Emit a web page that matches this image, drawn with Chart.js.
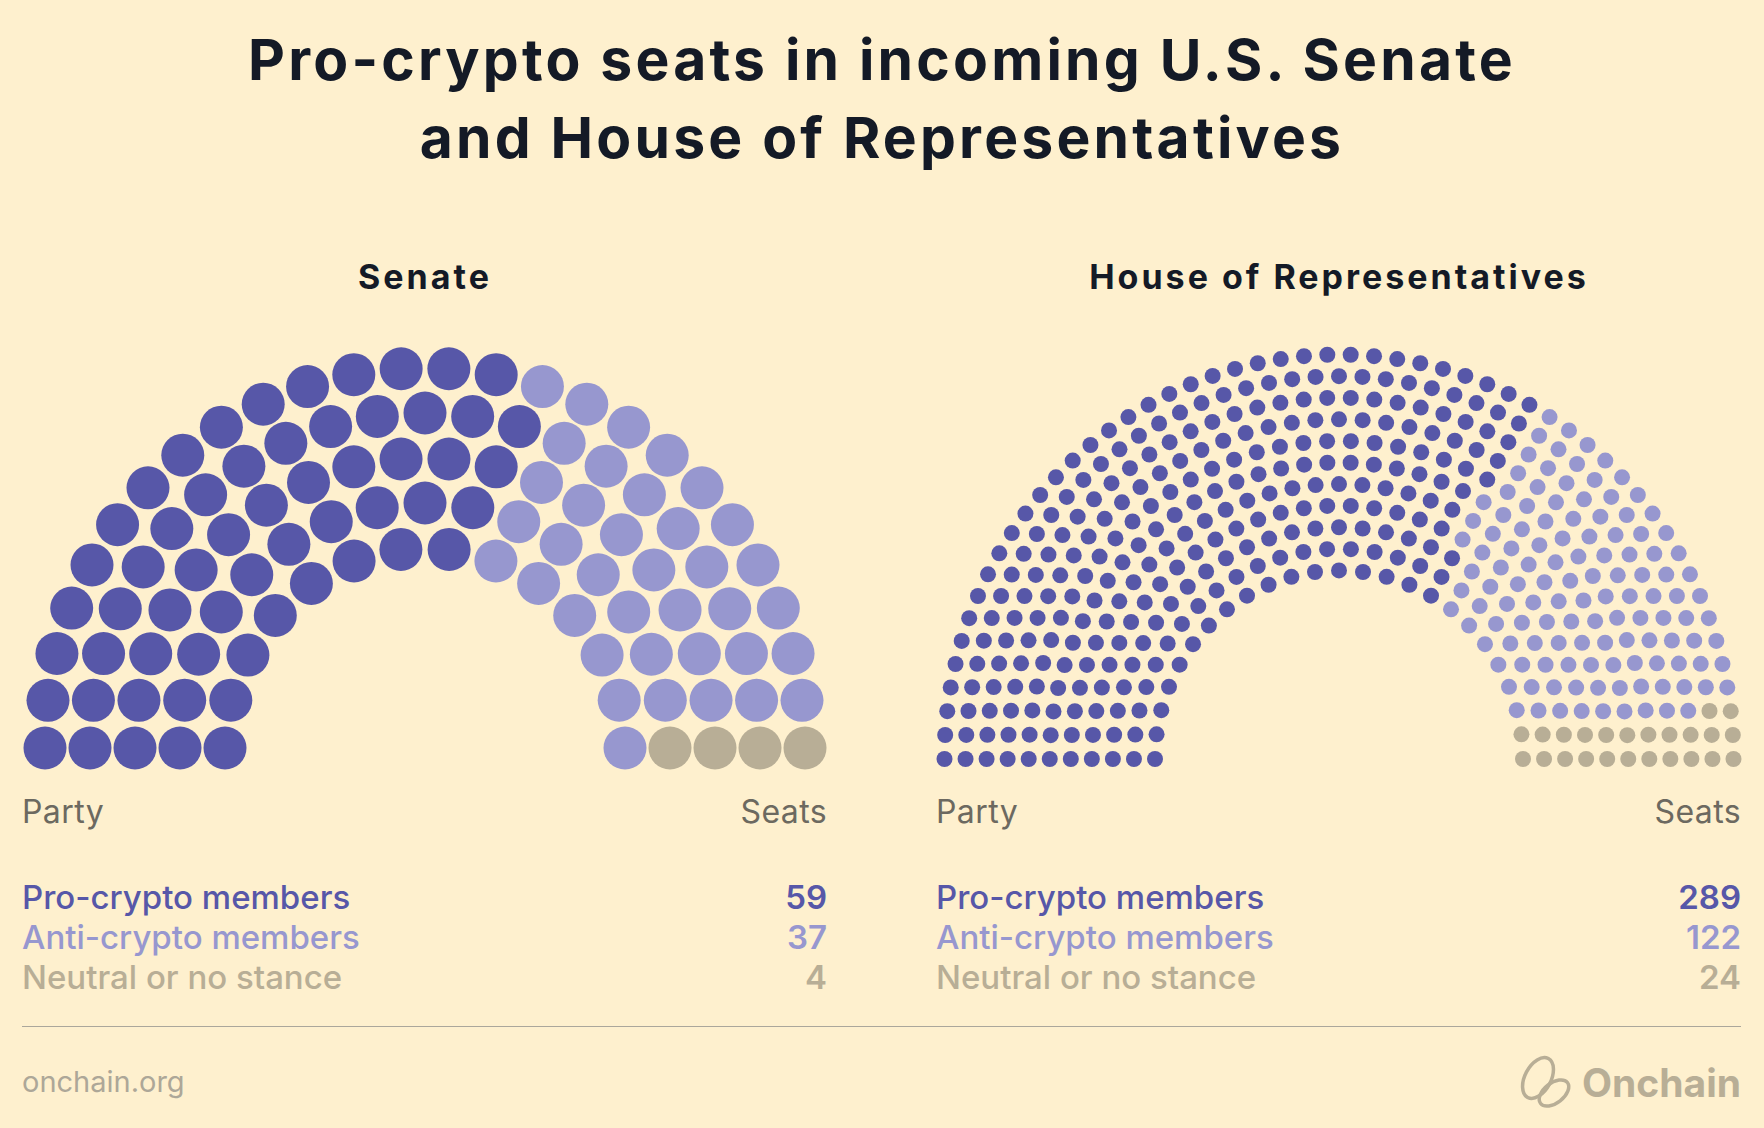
<!DOCTYPE html>
<html lang="en">
<head>
<meta charset="UTF-8">
<title>Pro-crypto seats in incoming U.S. Senate and House of Representatives</title>
<script src="https://cdn.jsdelivr.net/npm/chart.js@4.4.0/dist/chart.umd.min.js"></script>
<style>
  body { margin: 0; background: #FEF0CE; font-family: Inter, "Noto Sans", sans-serif; }
  #page { position: relative; width: 1764px; height: 1128px; overflow: hidden; }
  .abs { position: absolute; }
  #title { left: 0; top: 21px; width: 1764px; text-align: center; font-weight: 700; font-size: 57px; line-height: 78px; color: #141A26; letter-spacing: 3.2px; }
  .sub { top: 257px; width: 850px; text-align: center; font-weight: 700; font-size: 34px; line-height: 40px; color: #141A26; letter-spacing: 3px; }
  .legend { width: 805px; top: 794px; }
  .legend .head { display: flex; justify-content: space-between; font-size: 32px; line-height: 36px; color: #6C6960; margin-bottom: 47px; letter-spacing: 0.4px; }
  .legend .row { display: flex; justify-content: space-between; font-size: 33px; line-height: 40px; font-weight: 500; }
  #divider { left: 22px; top: 1026px; width: 1719px; height: 1px; background: #ABA79B; }
  #site { left: 22px; top: 1064px; font-size: 29px; line-height: 36px; color: #ADA798; }
  #logo { right: 23px; top: 1054px; display: flex; align-items: center; gap: 6px; color: #B8AE96; font-weight: 700; font-size: 39px; }
</style>
</head>
<body>
<div id="page">
  <div id="title" class="abs">Pro-crypto seats in incoming U.S. Senate<br>and House of Representatives</div>

  <div class="abs sub" style="left:0">Senate</div>
  <div class="abs sub" style="left:914px">House of Representatives</div>

  <div class="abs" style="left:0; top:330px; width:850px; height:440px">
    <canvas id="senateChart" width="850" height="440"></canvas>
  </div>
  <div class="abs" style="left:914px; top:330px; width:850px; height:450px">
    <canvas id="houseChart" width="850" height="450"></canvas>
  </div>

  <div id="senateLegend" class="abs legend" style="left:22px"></div>
  <div id="houseLegend" class="abs legend" style="left:936px"></div>

  <div id="divider" class="abs"></div>
  <div id="site" class="abs">onchain.org</div>
  <div id="logo" class="abs">
    <svg width="58" height="56" viewBox="0 0 58 56">
      <ellipse cx="20" cy="24" rx="13" ry="22" transform="rotate(28 20 24)" fill="none" stroke="#B8AE96" stroke-width="3.5"/>
      <ellipse cx="36" cy="39" rx="17" ry="10" transform="rotate(-38 36 39)" fill="none" stroke="#B8AE96" stroke-width="3.5"/>
    </svg>
    <span>Onchain</span>
  </div>
</div>

<script>
// seat counts, same order as parties
const parties = ['Pro-crypto members', 'Anti-crypto members', 'Neutral or no stance'];
const senateSeats = [59, 37, 4];
const houseSeats = [289, 122, 24];
const colors = ['#5757A8', '#9797CF', '#B8AE96'];

// hemicycle geometry (in px units of the chart scales)
function hemicycle(total, rings, rInner, rOuter) {
    const radii = [];
    for (let i = 0; i < rings; i++) radii.push(rInner + (rOuter - rInner) * i / (rings - 1));
    const sumR = radii.reduce((a, b) => a + b, 0);
    // seats per ring proportional to radius, largest remainder
    const raw = radii.map(r => total * r / sumR);
    const counts = raw.map(Math.floor);
    let left = total - counts.reduce((a, b) => a + b, 0);
    raw.map((v, i) => [v - Math.floor(v), i]).sort((a, b) => b[0] - a[0])
        .slice(0, left).forEach(([, i]) => counts[i]++);

    const seats = [];
    radii.forEach((r, i) => {
        const n = counts[i];
        for (let j = 0; j < n; j++) {
            const a = Math.PI * (1 - j / (n - 1));
            seats.push({ a, r, x: r * Math.cos(a), y: r * Math.sin(a) });
        }
    });
    // left to right, inner seat first on ties
    seats.sort((p, q) => (q.a - p.a) || (p.r - q.r));
    return seats;
}

function buildDatasets(counts, seats, radius) {
    let k = 0;
    return counts.map((c, i) => {
        const pts = seats.slice(k, k + c).map(s => ({ x: s.x, y: s.y }));
        k += c;
        return {
            label: parties[i],
            data: pts,
            backgroundColor: colors[i],
            pointRadius: radius,
            pointHoverRadius: radius,
            borderWidth: 0,
            clip: false
        };
    });
}

function drawChart(id, counts, rings, rInner, rOuter, dotR, yMin, yMax) {
    const seats = hemicycle(counts.reduce((a, b) => a + b, 0), rings, rInner, rOuter);
    new Chart(document.getElementById(id), {
        type: 'scatter',
        data: { datasets: buildDatasets(counts, seats, dotR) },
        options: {
            responsive: false,
            animation: false,
            layout: { padding: 0, autoPadding: false },
            plugins: { legend: { display: false }, tooltip: { enabled: false } },
            scales: {
                x: { type: 'linear', min: -425, max: 425, display: false },
                y: { type: 'linear', min: yMin, max: yMax, display: false }
            }
        }
    });
}

drawChart('senateChart', senateSeats, 5, 200, 380, 21.5, -22, 418);
drawChart('houseChart', houseSeats, 11, 184, 394.5, 8, -20.5, 418.5);

function legend(id, counts) {
    const el = document.getElementById(id);
    let html = '<div class="head"><span>Party</span><span>Seats</span></div>';
    counts.forEach((c, i) => {
        html += `<div class="row" style="color:${colors[i]}"><span>${parties[i]}</span><span style="font-weight:600">${c}</span></div>`;
    });
    el.innerHTML = html;
}
legend('senateLegend', senateSeats);
legend('houseLegend', houseSeats);
</script>
</body>
</html>
